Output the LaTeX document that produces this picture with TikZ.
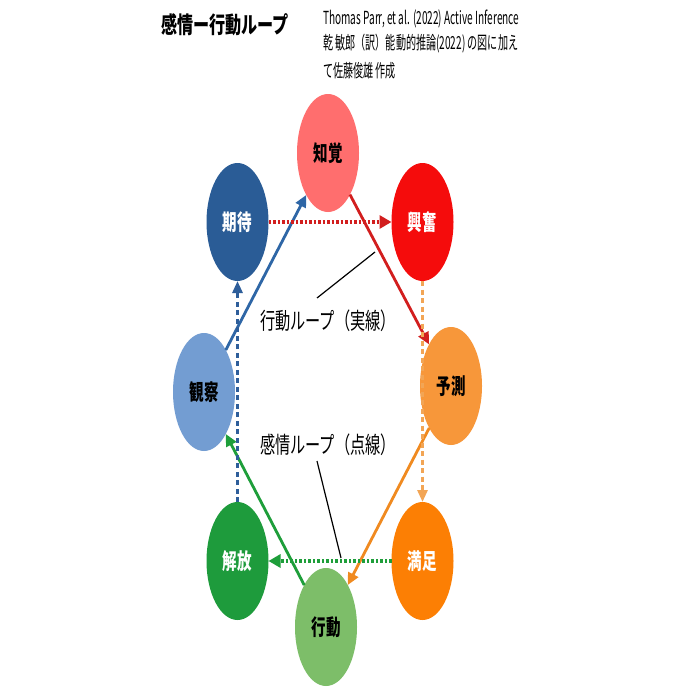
\documentclass[tikz,border=0pt]{standalone}
\usepackage{fontspec}
\usetikzlibrary{arrows.meta,shapes.geometric}
\newfontfamily\jpfont[FakeStretch=0.66]{Noto Sans CJK JP}
\newfontfamily\jptitle[FakeStretch=0.7]{Noto Sans CJK JP}
\newfontfamily\jpsmall[FakeStretch=0.56]{Noto Sans CJK JP}
\definecolor{cPer}{RGB}{255,110,110}
\definecolor{cExc}{RGB}{245,12,12}
\definecolor{cPre}{RGB}{247,151,58}
\definecolor{cSat}{RGB}{252,127,4}
\definecolor{cAct}{RGB}{125,190,105}
\definecolor{cRel}{RGB}{30,155,60}
\definecolor{cObs}{RGB}{115,157,210}
\definecolor{cExp}{RGB}{42,92,150}
\definecolor{aBlue}{RGB}{46,102,166}
\definecolor{aRed}{RGB}{210,30,30}
\definecolor{aOrange}{RGB}{240,138,32}
\definecolor{aGreen}{RGB}{30,158,58}
\definecolor{dOrange}{RGB}{242,165,85}
\definecolor{dBlue}{RGB}{46,94,154}
\begin{document}
\begin{tikzpicture}[x=1pt,y=-1pt,
  bub/.style={ellipse, minimum width=62pt, minimum height=118pt, inner sep=0pt, outer sep=0pt,
    font=\jpfont\bfseries\fontsize{22}{22}\selectfont},
  solidarr/.style={line width=2.8pt, -{Triangle[length=12pt,width=11pt]}},
  dotarr/.style={line width=4.5pt, dash pattern=on 2.5pt off 2pt, -{Triangle[length=12pt,width=13pt]}},
  dasharr/.style={line width=2.8pt, dash pattern=on 5pt off 3.5pt, -{Triangle[length=12pt,width=10pt]}},
  looplabel/.style={font=\jpfont\fontsize{23}{23}\selectfont, inner sep=0pt},
  srcline/.style={anchor=west, inner sep=0pt, font=\jpsmall\fontsize{18}{18}\selectfont},
  callout/.style={line width=1.2pt, black}
]
\useasboundingbox (0,0) rectangle (693,693);
\fill[white] (0,0) rectangle (693,693);

% title and source
\node[inner sep=0pt] (title) at (225,25) {\jptitle\bfseries\fontsize{23}{23}\selectfont 感情ー行動ループ};
\node[srcline] (src1) at (323,19) {Thomas Parr, et al. (2022) Active Inference};
\node[srcline] (src2) at (323,44) {乾 敏郎（訳）能動的推論(2022) の図に加え};
\node[srcline] (src3) at (323,71) {て佐藤俊雄 作成};

% bubbles
\node[bub, fill=cPer, text=black] (per) at (328,153) {知覚};
\node[bub, fill=cExc, text=white] (exc) at (422.5,222) {興奮};
\node[bub, fill=cPre, text=black] (pre) at (451,386) {予測};
\node[bub, fill=cSat, text=white] (sat) at (422.5,561) {満足};
\node[bub, fill=cAct, text=black] (act) at (326,627) {行動};
\node[bub, fill=cRel, text=white] (rel) at (237.5,561) {解放};
\node[bub, fill=cObs, text=black] (obs) at (204,392) {観察};
\node[bub, fill=cExp, text=white] (exp) at (237.5,222) {期待};

% action loop (solid)
\draw[solidarr, aBlue] (obs) -- (per);
\draw[solidarr, aRed] (per) -- (pre);
\draw[solidarr, aOrange] (pre) -- (act);
\draw[solidarr, aGreen] (act) -- (obs);

% emotion loop (dotted)
\draw[dotarr, aRed] (exp) -- (exc);
\draw[dasharr, dOrange] (exc) -- (sat);
\draw[dotarr, aGreen] (sat) -- (rel);
\draw[dasharr, dBlue] (rel) -- (exp);

% labels
\node[looplabel] (lab1) at (328,321) {行動ループ（実線）};
\node[looplabel] (lab2) at (328,445) {感情ループ（点線）};
\coordinate (c1a) at (317,298);
\coordinate (c1b) at (375,252);
\coordinate (c2a) at (317,461);
\coordinate (c2b) at (341,558);
\draw[callout] (c1a) -- (c1b);
\draw[callout] (c2a) -- (c2b);
\end{tikzpicture}
\end{document}
